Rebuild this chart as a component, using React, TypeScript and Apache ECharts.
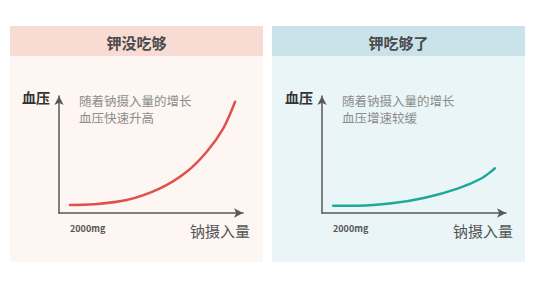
import React, { useEffect, useRef } from "react";
import * as echarts from "echarts";

const panelTitles = ["钾没吃够", "钾吃够了"];
const noteLines1 = ["随着钠摄入量的增长", "血压快速升高"];
const noteLines2 = ["随着钠摄入量的增长", "血压增速较缓"];
const yAxisName = "血压";
const xAxisName = "钠摄入量";
const startLabel = "2000mg";

// sodium intake (relative units 0-100) vs blood pressure (relative 0-100)
const lowKX = [6.0, 18.6, 36.8, 54.9, 69.4, 80.3, 89.3, 95.7];
const lowKY = [6.8, 7.4, 11.1, 21.1, 35.3, 52.4, 72.4, 95.1];
const highKX = [6.1, 19.7, 37.9, 56.0, 74.1, 86.8, 94.0];
const highKY = [6.2, 6.2, 8.3, 13.1, 21.1, 29.7, 38.2];

const FONT = "'Noto Sans CJK SC', 'Noto Sans', sans-serif";

export default function App() {
  const ref = useRef<HTMLDivElement>(null);
  useEffect(() => {
    if (!ref.current) return;
    const chart = echarts.init(ref.current, null, { renderer: "svg" });
    const axisLine = {
      show: true,
      symbol: ["none", "arrow"],
      symbolSize: [7, 9],
      lineStyle: { color: "#595959", width: 1.5 },
    };
    const mkAxis = (i: number) => ({
      type: "value",
      gridIndex: i,
      min: 0,
      max: 100,
      axisLine,
      axisTick: { show: false },
      axisLabel: { show: false },
      splitLine: { show: false },
    });
    const panels = [
      { x: 10, head: "#f8dcd3", body: "#fdf6f2", ox: 59, title: panelTitles[0], notes: noteLines1 },
      { x: 272, head: "#cae3eb", body: "#eaf5f8", ox: 322, title: panelTitles[1], notes: noteLines2 },
    ];
    const graphics: any[] = [];
    panels.forEach((p) => {
      graphics.push(
        { type: "rect", z: -10, shape: { x: p.x, y: 26, width: 253, height: 236 }, style: { fill: p.body } },
        { type: "rect", z: -9, shape: { x: p.x, y: 26, width: 253, height: 30 }, style: { fill: p.head } },
        {
          type: "text", x: p.x + 126.5, y: 42,
          style: { text: p.title, fill: "#4a4a4a", font: `bold 15px ${FONT}`, align: "center", verticalAlign: "middle" },
        },
        {
          type: "text", x: p.ox - 9, y: 97,
          style: { text: yAxisName, fill: "#333333", font: `bold 14px ${FONT}`, align: "right", verticalAlign: "middle" },
        },
        {
          type: "text", x: p.ox + 191, y: 230,
          style: { text: xAxisName, fill: "#555555", font: `15px ${FONT}`, align: "right", verticalAlign: "middle" },
        },
        {
          type: "text", x: p.ox + 11, y: 228,
          style: { text: startLabel, fill: "#555555", font: `bold 9px ${FONT}`, align: "left", verticalAlign: "middle" },
        },
        {
          type: "text", x: p.ox + 20, y: 100,
          style: { text: p.notes[0], fill: "#8c8c8c", font: `12.5px ${FONT}`, align: "left", verticalAlign: "middle" },
        },
        {
          type: "text", x: p.ox + 20, y: 117.5,
          style: { text: p.notes[1], fill: "#8c8c8c", font: `12.5px ${FONT}`, align: "left", verticalAlign: "middle" },
        }
      );
    });
    chart.setOption({
      animation: false,
      grid: [
        { left: 59, top: 96, width: 184, height: 117 },
        { left: 322, top: 96, width: 184, height: 117 },
      ],
      xAxis: [mkAxis(0), mkAxis(1)],
      yAxis: [mkAxis(0), mkAxis(1)],
      graphic: graphics,
      series: [
        {
          type: "line",
          xAxisIndex: 0,
          yAxisIndex: 0,
          smooth: 0.3,
          showSymbol: false,
          data: lowKX.map((x, i) => [x, lowKY[i]]),
          lineStyle: { color: "#e0514b", width: 2.5, cap: "round" },
        },
        {
          type: "line",
          xAxisIndex: 1,
          yAxisIndex: 1,
          smooth: 0.3,
          showSymbol: false,
          data: highKX.map((x, i) => [x, highKY[i]]),
          lineStyle: { color: "#1fa79a", width: 2.5, cap: "round" },
        },
      ],
    });
    return () => chart.dispose();
  }, []);
  return (
    <div
      ref={ref}
      style={{ position: "fixed", left: 0, top: 0, width: 560, height: 294, background: "#ffffff" }}
    />
  );
}
